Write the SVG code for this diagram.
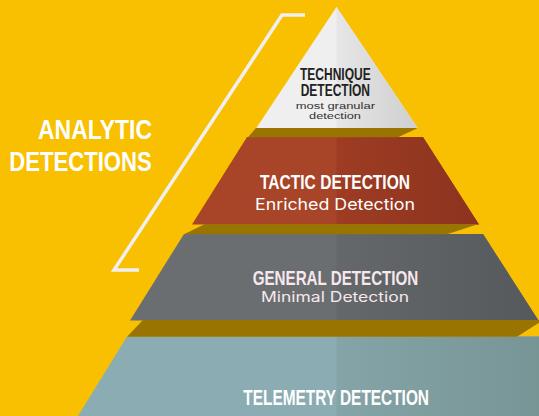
<svg xmlns="http://www.w3.org/2000/svg" width="539" height="416" viewBox="0 0 539 416">
  <defs>
    <linearGradient id="gW" gradientUnits="userSpaceOnUse" x1="336.5" y1="0" x2="418" y2="0">
      <stop offset="0" stop-color="#E6E6E6"/>
      <stop offset="1" stop-color="#CFCFCF"/>
    </linearGradient>
    <linearGradient id="gR" gradientUnits="userSpaceOnUse" x1="336.5" y1="0" x2="479" y2="0">
      <stop offset="0" stop-color="#9E3C23"/>
      <stop offset="1" stop-color="#8C331F"/>
    </linearGradient>
    <linearGradient id="gG" gradientUnits="userSpaceOnUse" x1="336.5" y1="0" x2="539" y2="0">
      <stop offset="0" stop-color="#64686A"/>
      <stop offset="1" stop-color="#56595B"/>
    </linearGradient>
    <linearGradient id="gT" gradientUnits="userSpaceOnUse" x1="336.5" y1="0" x2="539" y2="0">
      <stop offset="0" stop-color="#84A4A7"/>
      <stop offset="1" stop-color="#789596"/>
    </linearGradient>
  </defs>
  <style>
    .band { fill: #9A7400; }
    .head { font-family: "Liberation Sans", Arial, sans-serif; font-weight: 700; }
    .sub { font-family: Inter, "Noto Sans", sans-serif; font-weight: 400; }
    .tiny { font-family: "Liberation Sans", Arial, sans-serif; font-weight: 400; }
    .light { fill: #FFFFFF; }
  </style>

  <rect x="0" y="0" width="539" height="416" fill="#F8C000"/>

  <g id="telemetry">
    <polygon points="127,336.5 540,336.5 540,416 78,416" fill="#8AACB2"/>
    <polygon points="336.5,336.5 540,336.5 540,416 336.5,416" fill="url(#gT)"/>
    <text class="head light" x="243.3" y="405" font-size="22" textLength="185.7" lengthAdjust="spacingAndGlyphs">TELEMETRY DETECTION</text>
  </g>

  <g id="general">
    <polygon points="184,234 483,234 538.5,320.5 130,320.5" fill="#6A6E71"/>
    <polygon points="336.5,234 483,234 538.5,320.5 336.5,320.5" fill="url(#gG)"/>
    <text class="head" x="252.7" y="285.3" font-size="20" fill="#F7E8EC" textLength="165.6" lengthAdjust="spacingAndGlyphs">GENERAL DETECTION</text>
    <text class="sub" x="261" y="302" font-size="14" fill="#F7E8EC" textLength="148" lengthAdjust="spacingAndGlyphs">Minimal Detection</text>
  </g>

  <g id="tactic">
    <polygon points="247,137 423,137 479,224.5 192,224.5" fill="#A84427"/>
    <polygon points="336.5,137 423,137 479,224.5 336.5,224.5" fill="url(#gR)"/>
    <text class="head light" x="260" y="189.3" font-size="21" textLength="150" lengthAdjust="spacingAndGlyphs">TACTIC DETECTION</text>
    <text class="sub light" x="255" y="210" font-size="16" textLength="160" lengthAdjust="spacingAndGlyphs">Enriched Detection</text>
  </g>

  <g id="technique">
    <polygon points="336.5,7 418,128.5 256,128.5" fill="#EFEFEF"/>
    <polygon points="336.5,7 418,128.5 336.5,128.5" fill="url(#gW)"/>
    <text class="head" x="300" y="80" font-size="16" fill="#222222" textLength="70.7" lengthAdjust="spacingAndGlyphs">TECHNIQUE</text>
    <text class="head" x="300.7" y="96.3" font-size="16" fill="#222222" textLength="69.3" lengthAdjust="spacingAndGlyphs">DETECTION</text>
    <text class="tiny" x="295.7" y="108.6" font-size="9.6" fill="#333333" textLength="79.3" lengthAdjust="spacingAndGlyphs">most granular</text>
    <text class="tiny" x="309" y="119.4" font-size="9.6" fill="#333333" textLength="52" lengthAdjust="spacingAndGlyphs">detection</text>
  </g>

  <g id="shadows">
    <polygon class="band" points="256,128 418,128 398,137.3 248,137.3"/>
    <polygon class="band" points="205,224 478.5,224 447,234.3 184,234.3"/>
    <polygon class="band" points="143,320 540,320 540,322 517,336.8 127,336.8"/>
  </g>

  <g id="analytic-detections">
    <text class="head light" x="38" y="138.8" font-size="28.5" textLength="114" lengthAdjust="spacingAndGlyphs">ANALYTIC</text>
    <text class="head light" x="9.3" y="171.2" font-size="28.5" textLength="142.4" lengthAdjust="spacingAndGlyphs">DETECTIONS</text>
  </g>

  <g id="connectors">
    <polyline points="305,15 282,15 114,270 139,270" fill="none" stroke="#EFEFEF" stroke-width="3.5" stroke-linejoin="miter"/>
  </g>
</svg>
